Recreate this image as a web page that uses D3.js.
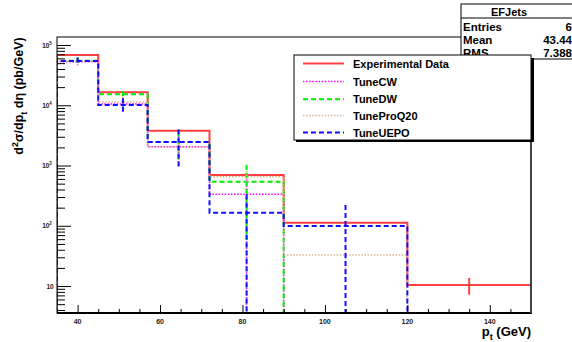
<!DOCTYPE html>
<html><head><meta charset="utf-8">
<script src="https://cdn.jsdelivr.net/npm/d3@7"></script>
<style>
html,body{margin:0;padding:0;background:#fff;}
svg{display:block;font-family:"Liberation Sans",Arial,sans-serif;}
</style></head>
<body>
<svg id="c" width="572" height="342"></svg>
<script>
// ---- data ----
const binEdges = [35, 45, 57, 72, 90, 120, 150];
const dataVals = [68000, 16400, 3790, 695, 112, 10.4];
const dataErr  = [2000, 600, 150, 40, 8, 3.2];
const cwVals   = [53000, 10500, 2050, 333, 0, 0];
const cwErr    = [7000, 2800, 1030, 333, 0, 0];
const dwVals   = [55000, 15200, 2455, 538, 0, 0];
const dwErr    = [7000, 2000, 1200, 480, 0, 0];
const proVals  = [54000, 11300, 2050, 652, 32.7, 0];
const proErr   = [7000, 2500, 800, 150, 20, 0];
const uepoVals = [54500, 10100, 2455, 165, 99, 0];
const uepoErr  = [7500, 2800, 1500, 165, 122, 0];
const seriesNames = ["Experimental Data", "TuneCW", "TuneDW", "TuneProQ20", "TuneUEPO"];
const xTickVals = [40, 60, 80, 100, 120, 140];
const yTickVals = [10, 100, 1000, 10000, 100000];
const yTickExp  = ["", "2", "3", "4", "5"];
const statsTitle = "EFJets";
const statsRows = [["Entries", "6"], ["Mean", "43.44"], ["RMS", "7.388"]];

// ---- layout ----
const L = 57, R = 531, T = 37, B = 313;
const svg = d3.select("#c");
const x = d3.scaleLinear().domain([35, 150]).range([L, R]);
const y = d3.scaleLog().domain([3.57, 135800]).range([B, T]);

const styles = [
  {vals: dataVals, err: dataErr, color: "#ff4040", dash: null, w: 2},
  {vals: cwVals, err: cwErr, color: "#ff00ff", dash: "1.5,1.6", w: 1.6},
  {vals: dwVals, err: dwErr, color: "#00ee00", dash: "5,3", w: 2},
  {vals: proVals, err: proErr, color: "#dcb48c", dash: "1.5,1.6", w: 1.6},
  {vals: uepoVals, err: uepoErr, color: "#1010ff", dash: "5,3", w: 2}
];

svg.append("defs").append("clipPath").attr("id", "clip")
  .append("rect").attr("x", L).attr("y", T - 1).attr("width", R - L).attr("height", B - T + 1);

const plot = svg.append("g").attr("clip-path", "url(#clip)");
const yv = v => v > 0 ? y(v) : B;

styles.forEach(s => {
  let p = d3.path();
  p.moveTo(x(binEdges[0]), B);
  s.vals.forEach((v, i) => {
    p.lineTo(x(binEdges[i]), yv(v));
    p.lineTo(x(binEdges[i + 1]), yv(v));
  });
  p.lineTo(x(binEdges[binEdges.length - 1]), B);
  plot.append("path").attr("d", p.toString()).attr("fill", "none")
    .attr("stroke", s.color).attr("stroke-width", s.w)
    .attr("stroke-dasharray", s.dash);
  s.vals.forEach((v, i) => {
    if (v <= 0) return;
    const cx = x((binEdges[i] + binEdges[i + 1]) / 2);
    const lo = v - s.err[i];
    plot.append("line").attr("x1", cx).attr("x2", cx)
      .attr("y1", y(v + s.err[i])).attr("y2", lo > 0 ? y(lo) : B)
      .attr("stroke", s.color).attr("stroke-width", s.w)
      .attr("stroke-dasharray", s.dash);
  });
});

// ---- axes (ticks inside frame) ----
const yMinor = [];
for (let e = 0; e <= 5; e++) for (let m = 2; m <= 9; m++) {
  const v = m * Math.pow(10, e);
  if (v > y.domain()[0] && v < y.domain()[1]) yMinor.push(v);
}
svg.append("g").attr("transform", `translate(${L},0)`)
  .call(d3.axisLeft(y).tickValues(yTickVals).tickSize(-14).tickFormat(""))
  .call(g => g.select(".domain").remove());
svg.append("g").attr("transform", `translate(${L},0)`)
  .call(d3.axisLeft(y).tickValues(yMinor).tickSize(-8).tickFormat(""))
  .call(g => g.select(".domain").remove());
const xMinor = d3.range(40, 150, 5).filter(v => v % 20 !== 0);
svg.append("g").attr("transform", `translate(0,${B})`)
  .call(d3.axisBottom(x).tickValues(xTickVals).tickSize(-8).tickFormat(""))
  .call(g => g.select(".domain").remove());
svg.append("g").attr("transform", `translate(0,${B})`)
  .call(d3.axisBottom(x).tickValues(xMinor).tickSize(-4).tickFormat(""))
  .call(g => g.select(".domain").remove());

// frame
svg.append("rect").attr("x", L).attr("y", T).attr("width", R - L).attr("height", B - T)
  .attr("fill", "none").attr("stroke", "#000").attr("stroke-width", 1);
svg.append("line").attr("x1", L).attr("x2", R + 1).attr("y1", B).attr("y2", B)
  .attr("stroke", "#000").attr("stroke-width", 2);
svg.append("line").attr("x1", R).attr("x2", R).attr("y1", T).attr("y2", B)
  .attr("stroke", "#444").attr("stroke-width", 2);

// tick labels
svg.append("g").selectAll("text").data(xTickVals).join("text")
  .attr("x", d => x(d)).attr("y", B + 11).attr("text-anchor", "middle")
  .attr("font-size", 7).attr("font-weight", "bold").attr("fill", "#222").text(d => d);
const yl = svg.append("g").selectAll("text").data(yTickVals).join("text")
  .attr("x", (d, i) => i === 0 ? 50 : 47).attr("y", d => y(d) + 2.5).attr("text-anchor", "middle")
  .attr("font-size", 6.5).attr("font-weight", "bold").attr("fill", "#222");
yl.append("tspan").text("10");
yl.append("tspan").attr("dy", -3).attr("font-size", 4.5).text((d, i) => yTickExp[i]);

// axis titles
const yt = svg.append("text").attr("transform", "translate(23,96) rotate(-90)")
  .attr("text-anchor", "middle").attr("font-size", 12.5).attr("font-weight", "bold");
yt.append("tspan").text("d");
yt.append("tspan").attr("dy", -5).attr("font-size", 9).text("2");
yt.append("tspan").attr("dy", 5).text("σ/dp");
yt.append("tspan").attr("dy", 4).attr("font-size", 9).text("t");
yt.append("tspan").attr("dy", -4).text(" dη (pb/GeV)");

const xt = svg.append("text").attr("x", R).attr("y", 336).attr("text-anchor", "end")
  .attr("font-size", 13).attr("font-weight", "bold");
xt.append("tspan").text("p");
xt.append("tspan").attr("dy", 4).attr("font-size", 9).text("t");
xt.append("tspan").attr("dy", -4).text(" (GeV)");

// stats box
const sb = svg.append("g");
sb.append("rect").attr("x", 461).attr("y", 4).attr("width", 125).attr("height", 55)
  .attr("fill", "#fff").attr("stroke", "#000").attr("stroke-width", 1);
sb.append("line").attr("x1", 461).attr("x2", 572).attr("y1", 18).attr("y2", 18).attr("stroke", "#000");
sb.append("text").attr("x", 509).attr("y", 16).attr("text-anchor", "middle")
  .attr("font-size", 11).attr("font-weight", "bold").text(statsTitle);
statsRows.forEach((r, i) => {
  sb.append("text").attr("x", 463).attr("y", 30.5 + i * 13.3).attr("font-size", 11.5)
    .attr("font-weight", "bold").text(r[0]);
  sb.append("text").attr("x", 572).attr("y", 30.5 + i * 13.3).attr("text-anchor", "end")
    .attr("font-size", 11.5).attr("font-weight", "bold").text(r[1]);
});

// legend
const lg = svg.append("g");
lg.append("rect").attr("x", 296).attr("y", 58).attr("width", 238).attr("height", 84).attr("fill", "#000");
lg.append("rect").attr("x", 294).attr("y", 55).attr("width", 237).attr("height", 85)
  .attr("fill", "#fff").attr("stroke", "#000").attr("stroke-width", 1);
const ly = [63.5, 81.5, 99.3, 115.5, 132.5];
styles.forEach((s, i) => {
  lg.append("line").attr("x1", 303).attr("x2", 344).attr("y1", ly[i]).attr("y2", ly[i])
    .attr("stroke", s.color).attr("stroke-width", s.w).attr("stroke-dasharray", s.dash);
  lg.append("text").attr("x", 353).attr("y", ly[i] + 4).attr("font-size", 11)
    .attr("font-weight", "bold").text(seriesNames[i]);
});
</script>
</body></html>
